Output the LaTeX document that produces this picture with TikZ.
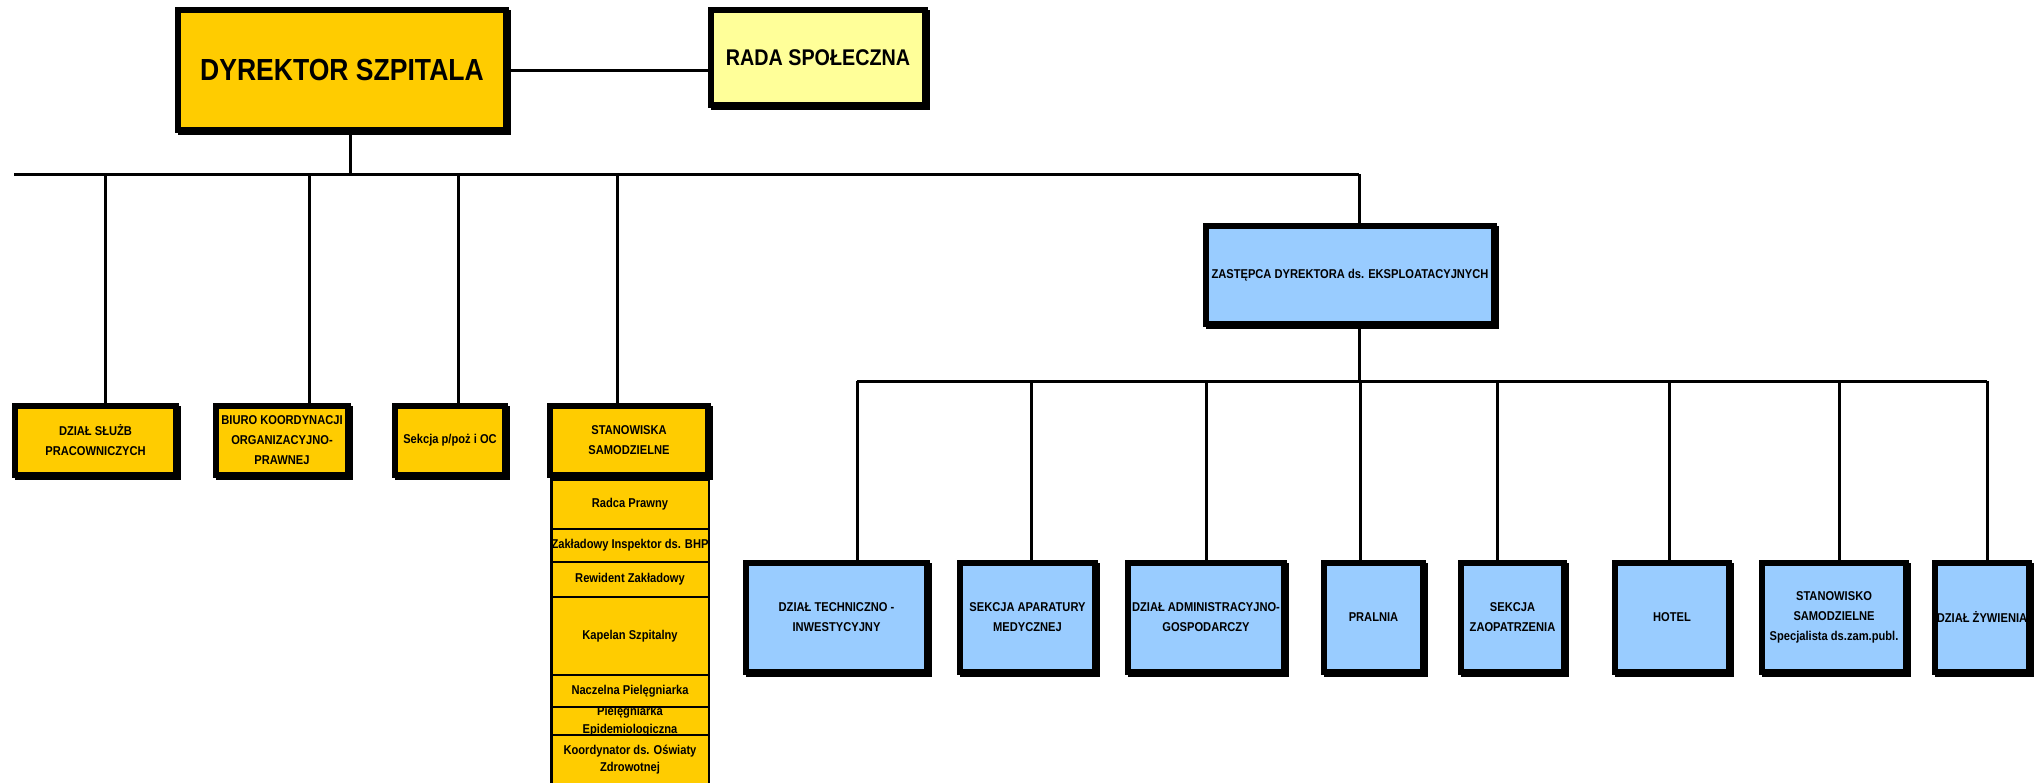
\documentclass[tikz,border=0pt]{standalone}
\usepackage{fontspec}
\setmainfont[FakeStretch=0.87]{Liberation Sans}
\usetikzlibrary{shadows}
\definecolor{gold}{HTML}{FFCC00}
\definecolor{paleyellow}{HTML}{FFFF99}
\definecolor{skyblue}{HTML}{99CCFF}
\begin{document}
\begin{tikzpicture}[x=1pt,y=-1pt,
  box/.style={draw=black, line width=5.5pt, inner sep=0pt, align=center,
    font=\fontsize{12.8}{20}\selectfont\bfseries,
    drop shadow={shadow xshift=2.5pt, shadow yshift=-2.5pt, fill=black, draw=black, line width=5.5pt, opacity=1}},
  gbox/.style={box, fill=gold},
  bbox/.style={box, fill=skyblue},
  sbox/.style={draw=black, line width=2.5pt, fill=gold, inner sep=0pt, align=center,
    font=\fontsize{12.8}{17.5}\selectfont\bfseries, minimum width=157.5pt},
  conn/.style={line width=3pt}]
\useasboundingbox[fill=white] (0,0) rectangle (2039,782);

% coordinates of the buses
\coordinate (bL) at (14,174);
\coordinate (bR) at (1359,174);
\coordinate (s0) at (350,174);
\coordinate (d1) at (105,174);
\coordinate (d2) at (309,174);
\coordinate (d3) at (458,174);
\coordinate (d4) at (617,174);
\coordinate (lbL) at (857,381);
\coordinate (lbR) at (1987,381);
\coordinate (lb0) at (1359,381);
\coordinate (e1) at (857,381);
\coordinate (e2) at (1031,381);
\coordinate (e3) at (1206,381);
\coordinate (e4) at (1360,381);
\coordinate (e5) at (1497,381);
\coordinate (e6) at (1669,381);
\coordinate (e7) at (1839,381);
\coordinate (e8) at (1987,381);

% top boxes
\node[gbox, minimum width=328pt, minimum height=120pt, font=\fontsize{30.5}{36}\selectfont\bfseries] (dyr) at (342,70) {DYREKTOR SZPITALA};
\node[box, fill=paleyellow, minimum width=214pt, minimum height=95pt, font=\fontsize{22.7}{27}\selectfont\bfseries] (rada) at (818,57.5) {RADA SPOŁECZNA};

% connectors
\draw[conn] (dyr.east) -- (dyr.east -| rada.west);
\draw[conn] (s0 |- dyr.south) -- (s0);
\draw[conn] (bL) -- (bR);

% first row
\node[gbox, minimum width=161pt, minimum height=69pt] (dsp) at (95.5,440.5) {DZIAŁ SŁUŻB\\PRACOWNICZYCH};
\node[gbox, minimum width=132pt, minimum height=69pt] (biuro) at (282,440.5) {BIURO KOORDYNACJI\\ORGANIZACYJNO-\\PRAWNEJ};
\node[gbox, minimum width=110pt, minimum height=69pt] (sek) at (450,440.5) {Sekcja p/poż i OC};

% stack of posts
\node[sbox, minimum height=49pt] (radca) at (630,504.5) {Radca Prawny};
\node[sbox, minimum height=33pt] (zakl) at (630,545.5) {Zakładowy Inspektor ds. BHP};
\node[sbox, minimum height=35pt] (rew) at (630,579.5) {Rewident Zakładowy};
\node[sbox, minimum height=78pt] (kap) at (630,636) {Kapelan Szpitalny};
\node[sbox, minimum height=28pt] (piel) at (630,721) {Pielęgniarka\\Epidemiologiczna};
\node[sbox, minimum height=32pt] (nacz) at (630,691) {Naczelna Pielęgniarka};
\node[sbox, minimum height=49pt] (koord) at (630,759.5) {Koordynator ds. Oświaty\\Zdrowotnej};

\node[gbox, minimum width=158pt, minimum height=69pt] (stan) at (629,440.5) {STANOWISKA\\SAMODZIELNE};

\draw[conn] (d1) -- (d1 |- dsp.north);
\draw[conn] (d2) -- (d2 |- biuro.north);
\draw[conn] (d3) -- (d3 |- sek.north);
\draw[conn] (d4) -- (d4 |- stan.north);

% deputy director
\node[bbox, minimum width=288pt, minimum height=98pt] (zast) at (1350,275) {ZASTĘPCA DYREKTORA ds. EKSPLOATACYJNYCH};
\draw[conn] (bR) -- (bR |- zast.north);
\draw[conn] (zast.south -| lb0) -- (lb0);
\draw[conn] (lbL) -- (lbR);

% lower row
\node[bbox, minimum width=181pt, minimum height=109pt] (tech) at (836.5,617.5) {DZIAŁ TECHNICZNO -\\INWESTYCYJNY};
\node[bbox, minimum width=135pt, minimum height=109pt] (apar) at (1027.5,617.5) {SEKCJA APARATURY\\MEDYCZNEJ};
\node[bbox, minimum width=156pt, minimum height=109pt] (admin) at (1206,617.5) {DZIAŁ ADMINISTRACYJNO-\\GOSPODARCZY};
\node[bbox, minimum width=99pt, minimum height=109pt] (pral) at (1373.5,617.5) {PRALNIA};
\node[bbox, minimum width=103pt, minimum height=109pt] (zaop) at (1512.5,617.5) {SEKCJA\\ZAOPATRZENIA};
\node[bbox, minimum width=114pt, minimum height=109pt] (hotel) at (1672,617.5) {HOTEL};
\node[bbox, minimum width=144pt, minimum height=109pt] (stano) at (1834,617.5) {STANOWISKO\\SAMODZIELNE\\Specjalista ds.zam.publ.};
\node[bbox, minimum width=94pt, minimum height=109pt] (zyw) at (1982,617.5) {DZIAŁ ŻYWIENIA};

\draw[conn] (e1) -- (e1 |- tech.north);
\draw[conn] (e2) -- (e2 |- apar.north);
\draw[conn] (e3) -- (e3 |- admin.north);
\draw[conn] (e4) -- (e4 |- pral.north);
\draw[conn] (e5) -- (e5 |- zaop.north);
\draw[conn] (e6) -- (e6 |- hotel.north);
\draw[conn] (e7) -- (e7 |- stano.north);
\draw[conn] (e8) -- (e8 |- zyw.north);
\end{tikzpicture}
\end{document}
